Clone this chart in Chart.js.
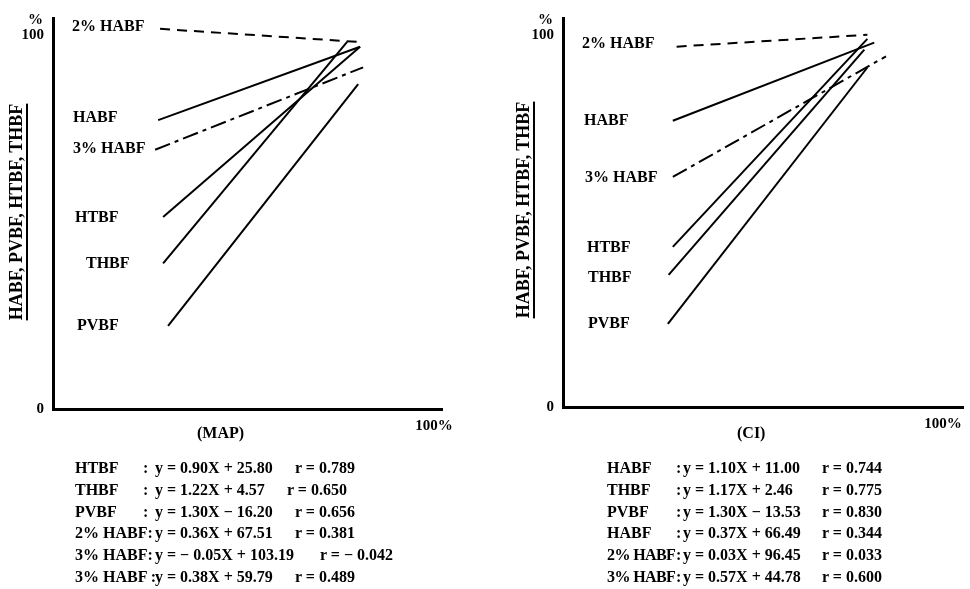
<!DOCTYPE html>
<html>
<head>
<meta charset="utf-8">
<script src="https://cdn.jsdelivr.net/npm/chart.js@4.4.1/dist/chart.umd.min.js"></script>
<style>
  body { margin:0; width:970px; height:589px; position:relative; background:#fff; overflow:hidden;
         font-family:"Liberation Serif","DejaVu Serif",serif; font-weight:bold; color:#000; }
  .wrap { position:absolute; top:0; height:589px; }
  .t { position:absolute; white-space:nowrap; font-size:16px; line-height:20px; }
  .ytitle { position:absolute; width:260px; height:24px; line-height:24px; text-align:center; font-size:18px;
            transform:rotate(-90deg); transform-origin:50% 50%; text-decoration:underline;
            text-underline-offset:4px; text-decoration-thickness:1.5px; white-space:nowrap; }
</style>
</head>
<body>
<div class="wrap" style="left:0;width:485px"><canvas id="c1" width="485" height="589"></canvas></div>
<div class="wrap" style="left:485px;width:485px"><canvas id="c2" width="485" height="589"></canvas></div>
<div id="overlay"></div>
<script>
// ---------- data ----------
const seriesNames = ['2% HABF', 'HABF', '3% HABF', 'HTBF', 'THBF', 'PVBF'];
const lineStyles  = ['dash', 'solid', 'dashdot', 'solid', 'solid', 'solid'];

// MAP panel: start / end points of each regression line (x in %, y in %)
const mapX0 = [28.1, 27.6, 26.8, 28.9, 28.9, 30.2];
const mapY0 = [101.6, 77.2, 69.3, 51.3, 38.9, 22.2];
const mapX1 = [80.1, 80.6, 81.4, 80.6, 77.2, 80.1];
const mapY1 = [98.1, 96.8, 91.3, 96.8, 98.1, 86.8];

// CI panel
const ciX0 = [29.9, 28.9, 28.9, 28.9, 27.8, 27.6];
const ciY0 = [96.8, 76.9, 61.8, 43.0, 35.5, 22.3];
const ciX1 = [80.1, 81.9, 85.0, 80.1, 79.3, 80.1];
const ciY1 = [100.0, 97.9, 94.2, 98.9, 96.0, 91.2];

const yTicks = [0, 100];
const yTickLabels = ['0', '100'];
const xTicks = [100];
const xTickLabels = ['100%'];
const axisTitleY = 'HABF, PVBF, HTBF, THBF';
const axisTitlesX = ['(MAP)', '(CI)'];

// regression equations printed under each panel
const mapEqNames    = ['HTBF', 'THBF', 'PVBF', '2% HABF:', '3% HABF:', '3% HABF :'];
const mapEqFormulas = ['y = 0.90X + 25.80', 'y = 1.22X + 4.57', 'y = 1.30X − 16.20',
                       'y = 0.36X + 67.51', 'y = − 0.05X + 103.19', 'y = 0.38X + 59.79'];
const mapEqR        = ['r = 0.789', 'r = 0.650', 'r = 0.656', 'r = 0.381', 'r = − 0.042', 'r = 0.489'];
const ciEqNames     = ['HABF', 'THBF', 'PVBF', 'HABF', '2% HABF', '3% HABF'];
const ciEqFormulas  = ['y = 1.10X + 11.00', 'y = 1.17X + 2.46', 'y = 1.30X − 13.53',
                       'y = 0.37X + 66.49', 'y = 0.03X + 96.45', 'y = 0.57X + 44.78'];
const ciEqR         = ['r = 0.744', 'r = 0.775', 'r = 0.830', 'r = 0.344', 'r = 0.033', 'r = 0.600'];

// ---------- layout ----------
const dashMap = { solid: [], dash: [10, 7], dashdot: [16, 5, 4, 5] };

function makeChart(id, x0, y0, x1, y1, xMax, yAxisW, xAxisH, pad) {
  const datasets = seriesNames.map((n, i) => ({
    label: n,
    data: [{ x: x0[i], y: y0[i] }, { x: x1[i], y: y1[i] }],
    showLine: true, pointRadius: 0, borderColor: '#000', borderWidth: 2,
    borderDash: dashMap[lineStyles[i]], fill: false, tension: 0
  }));
  const tickFont = { family: 'Liberation Serif', size: 15, weight: 'bold' };
  return new Chart(document.getElementById(id), {
    type: 'scatter',
    data: { datasets },
    options: {
      responsive: false, animation: false,
      layout: { padding: pad },
      plugins: { legend: { display: false }, tooltip: { enabled: false } },
      scales: {
        x: {
          type: 'linear', min: 0, max: xMax,
          grid: { display: false, drawTicks: false },
          border: { display: true, color: '#000', width: 3 },
          afterBuildTicks: s => { s.ticks = xTicks.map(v => ({ value: v })); },
          afterFit: s => { s.height = xAxisH; },
          ticks: { color: '#000', font: tickFont, padding: 8, autoSkip: false, maxRotation: 0,
                   callback: (v) => xTickLabels[xTicks.indexOf(v)] }
        },
        y: {
          type: 'linear', min: 0, max: 104.5,
          grid: { display: false, drawTicks: false },
          border: { display: true, color: '#000', width: 3 },
          afterBuildTicks: s => { s.ticks = yTicks.map(v => ({ value: v })); },
          afterFit: s => { s.width = yAxisW; },
          ticks: { color: '#000', font: tickFont, padding: 9, autoSkip: false,
                   callback: (v) => yTickLabels[yTicks.indexOf(v)] }
        }
      }
    }
  });
}

makeChart('c1', mapX0, mapY0, mapX1, mapY1, 102.1, 53, 180, { left: 0, right: 43, top: 14, bottom: 0 });
makeChart('c2', ciX0, ciY0, ciX1, ciY1, 105.5, 78, 182, { left: 0, right: 5, top: 13, bottom: 0 });

// ---------- text overlays ----------
const ov = document.getElementById('overlay');
function txt(s, x, cy, extra) {
  const d = document.createElement('div');
  d.className = 't';
  d.textContent = s;
  d.style.left = x + 'px';
  d.style.top = (cy - 10) + 'px';
  if (extra) Object.assign(d.style, extra);
  ov.appendChild(d);
  return d;
}
// line labels
const mapLabelPos = [[72, 26], [73, 117], [73, 148], [75, 217], [86, 263], [77, 325]];
const ciLabelPos  = [[582, 43], [584, 120], [585, 177], [587, 247], [588, 277], [588, 323]];
seriesNames.forEach((n, i) => {
  txt(n, mapLabelPos[i][0], mapLabelPos[i][1]);
  txt(n, ciLabelPos[i][0], ciLabelPos[i][1]);
});
// % signs above 100
txt('%', 28, 19, { fontSize: '15px' });
txt('%', 538, 19, { fontSize: '15px' });
// axis titles
txt(axisTitlesX[0], 197, 433);
txt(axisTitlesX[1], 737, 433);
function ytitle(cx, cy) {
  const d = document.createElement('div');
  d.className = 'ytitle';
  d.textContent = axisTitleY;
  d.style.left = (cx - 130) + 'px';
  d.style.top = (cy - 12) + 'px';
  ov.appendChild(d);
}
ytitle(16, 212);
ytitle(523, 210);
// equations
const eqRowY = [468, 490, 512, 533, 555, 577];
const mapRX = [295, 287, 295, 295, 320, 295];
eqRowY.forEach((y, i) => {
  txt(mapEqNames[i], 75, y);
  if (i < 3) txt(':', 143, y);
  txt(mapEqFormulas[i], 155, y);
  txt(mapEqR[i], mapRX[i], y);
  txt(ciEqNames[i], 607, y, i >= 4 ? { letterSpacing: '-0.6px' } : null);
  txt(':', 676, y);
  txt(ciEqFormulas[i], 683, y);
  txt(ciEqR[i], 822, y);
});
</script>
</body>
</html>
